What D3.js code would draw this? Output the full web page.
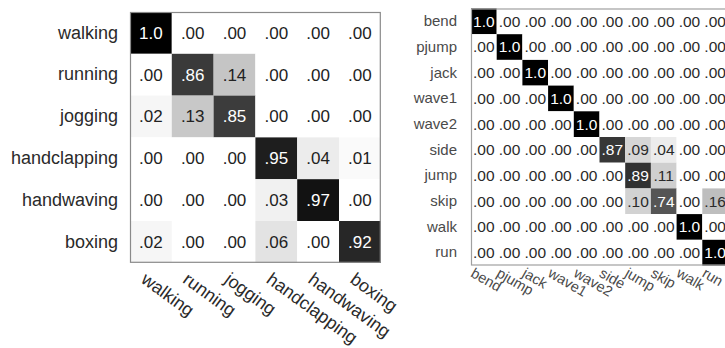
<!DOCTYPE html>
<html>
<head>
<meta charset="utf-8">
<script src="https://cdn.jsdelivr.net/npm/d3@7"></script>
<style>
  html, body { margin: 0; padding: 0; background: #fff; }
  svg { display: block; font-family: "Liberation Sans", Arial, sans-serif; }
</style>
</head>
<body>
<svg id="chart" width="725" height="348"></svg>
<script>
// KTH action classes and their confusion matrix (rows = true, cols = predicted)
const kthActions = ["walking", "running", "jogging", "handclapping", "handwaving", "boxing"];
const kthMatrix = [
  [1.00, 0.00, 0.00, 0.00, 0.00, 0.00],
  [0.00, 0.86, 0.14, 0.00, 0.00, 0.00],
  [0.02, 0.13, 0.85, 0.00, 0.00, 0.00],
  [0.00, 0.00, 0.00, 0.95, 0.04, 0.01],
  [0.00, 0.00, 0.00, 0.03, 0.97, 0.00],
  [0.02, 0.00, 0.00, 0.06, 0.00, 0.92]
];

// Weizmann action classes and their confusion matrix
const weizActions = ["bend", "pjump", "jack", "wave1", "wave2", "side", "jump", "skip", "walk", "run"];
const weizMatrix = [
  [1.00, 0.00, 0.00, 0.00, 0.00, 0.00, 0.00, 0.00, 0.00, 0.00],
  [0.00, 1.00, 0.00, 0.00, 0.00, 0.00, 0.00, 0.00, 0.00, 0.00],
  [0.00, 0.00, 1.00, 0.00, 0.00, 0.00, 0.00, 0.00, 0.00, 0.00],
  [0.00, 0.00, 0.00, 1.00, 0.00, 0.00, 0.00, 0.00, 0.00, 0.00],
  [0.00, 0.00, 0.00, 0.00, 1.00, 0.00, 0.00, 0.00, 0.00, 0.00],
  [0.00, 0.00, 0.00, 0.00, 0.00, 0.87, 0.09, 0.04, 0.00, 0.00],
  [0.00, 0.00, 0.00, 0.00, 0.00, 0.00, 0.89, 0.11, 0.00, 0.00],
  [0.00, 0.00, 0.00, 0.00, 0.00, 0.00, 0.10, 0.74, 0.00, 0.16],
  [0.00, 0.00, 0.00, 0.00, 0.00, 0.00, 0.00, 0.00, 1.00, 0.00],
  [0.00, 0.00, 0.00, 0.00, 0.00, 0.00, 0.00, 0.00, 0.00, 1.00]
];

// Grey level for a cell value (white at 0, black at 1)
const greyLevel = d3.scaleLinear()
  .domain([0, 0.04, 0.10, 0.16, 0.74, 0.86, 0.95, 1])
  .range([255, 236, 210, 190, 85, 58, 30, 0])
  .clamp(true);
const cellFill = v => { const g = Math.round(greyLevel(v)); return d3.rgb(g, g, g).toString(); };

const fmt2 = d3.format(".2f");
const fmtValue = v => v >= 1 ? "1.0" : fmt2(v).replace(/^0/, "");

const svg = d3.select("#chart");

function drawMatrix(opt) {
  const n = opt.labels.length;
  const size = opt.cell * n;
  const g = svg.append("g").attr("transform", `translate(${opt.x},${opt.y})`);

  const xs = d3.scaleBand().domain(opt.labels).range([0, size]).padding(0);
  const ys = d3.scaleBand().domain(opt.labels).range([0, size]).padding(0);

  const cells = [];
  opt.matrix.forEach((row, i) => row.forEach((v, j) => cells.push({ r: opt.labels[i], c: opt.labels[j], v })));

  g.selectAll("rect.cell").data(cells).join("rect")
    .attr("class", "cell")
    .attr("x", d => xs(d.c))
    .attr("y", d => ys(d.r))
    .attr("width", xs.bandwidth())
    .attr("height", ys.bandwidth())
    .attr("fill", d => cellFill(d.v));

  g.selectAll("text.val").data(cells).join("text")
    .attr("class", "val")
    .attr("x", d => xs(d.c) + xs.bandwidth() / 2)
    .attr("y", d => ys(d.r) + ys.bandwidth() / 2)
    .attr("dy", "0.35em")
    .attr("text-anchor", "middle")
    .attr("font-size", opt.valueSize)
    .attr("fill", d => d.v > 0.5 ? "#ffffff" : opt.valueColor)
    .text(d => fmtValue(d.v));

  // frame around the matrix
  g.append("rect")
    .attr("x", 0.5).attr("y", 0.5)
    .attr("width", size - 1).attr("height", size - 1)
    .attr("fill", "none")
    .attr("stroke", opt.frameColor)
    .attr("stroke-width", 1.2);

  // row labels
  const yAxis = g.append("g")
    .call(d3.axisLeft(ys).tickSize(0).tickPadding(opt.rowPad));
  yAxis.select(".domain").remove();
  yAxis.selectAll("text")
    .attr("font-size", opt.labelSize)
    .attr("font-family", "Liberation Sans, Arial, sans-serif")
    .attr("fill", opt.labelColor);

  // column labels, slanted
  const xAxis = g.append("g")
    .attr("transform", `translate(0,${size})`)
    .call(d3.axisBottom(xs).tickSize(0));
  xAxis.select(".domain").remove();
  xAxis.selectAll("text")
    .attr("x", 0).attr("y", 0).attr("dy", 0)
    .attr("text-anchor", "start")
    .attr("transform", `translate(${opt.colDx},${opt.colDy}) rotate(${opt.colAngle})`)
    .attr("font-size", opt.colLabelSize)
    .attr("font-family", "Liberation Sans, Arial, sans-serif")
    .attr("fill", opt.labelColor);
}

drawMatrix({
  labels: kthActions, matrix: kthMatrix,
  x: 130, y: 12, cell: 41.8,
  valueSize: 17, labelSize: 18, colLabelSize: 18, rowPad: 12,
  valueColor: "#222", labelColor: "#2a2a2a", frameColor: "#8a8a8a",
  colDx: -11, colDy: 19, colAngle: 36
});

drawMatrix({
  labels: weizActions, matrix: weizMatrix,
  x: 471, y: 8.5, cell: 25.7,
  valueSize: 15.5, labelSize: 15, colLabelSize: 14.5, rowPad: 14,
  valueColor: "#2a2a2a", labelColor: "#4a4a4a", frameColor: "#a0a0a0",
  colDx: -14, colDy: 10.5, colAngle: 30
});
</script>
</body>
</html>
